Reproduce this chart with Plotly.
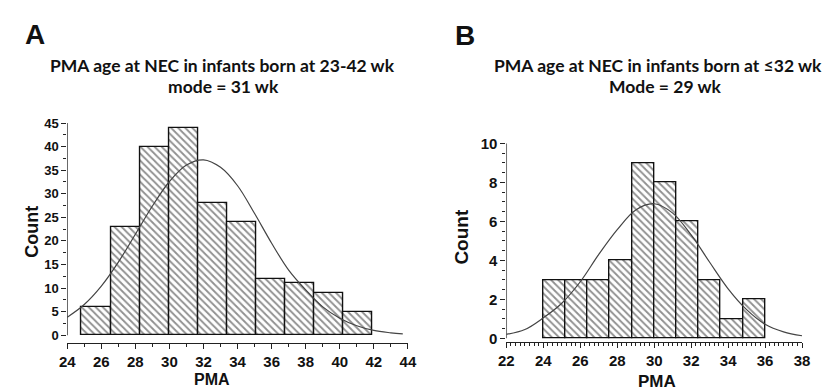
import plotly.graph_objects as go

# ---------------- data ----------------
# Panel A: PMA at NEC, infants born 23-42 wk
A_bin_start = 24.85
A_bin_width = 1.705
A_counts = [6, 23, 40, 44, 28, 24, 12, 11, 9, 5]
A_curve_x = [24, 25, 26, 27, 28, 29, 30, 31, 32, 33, 34, 35, 36, 37, 38, 39, 40, 41, 42, 43, 43.7]
A_curve_y = [3.8, 6.5, 10.4, 15.5, 21.4, 27.4, 32.6, 36.1, 37.2, 35.6, 31.7, 25.8, 19.5, 13.8, 9.6, 6.0, 3.6, 2.0, 1.0, 0.5, 0.25]

# Panel B: PMA at NEC, infants born <=32 wk
B_bin_start = 24.0
B_bin_width = 1.2
B_counts = [3, 3, 3, 4, 9, 8, 6, 3, 1, 2]
B_curve_x = [22, 23, 24, 25, 26, 27, 28, 29, 30, 31, 32, 33, 34, 35, 36, 37, 38]
B_curve_y = [0.2, 0.45, 1.05, 1.8, 2.9, 4.3, 5.57, 6.58, 6.9, 6.42, 5.3, 3.9, 2.54, 1.47, 0.72, 0.33, 0.13]

A_title = ["PMA age at NEC in infants born at 23-42 wk", "mode = 31 wk"]
B_title = ["PMA age at NEC in infants born at \u226432 wk", "Mode = 29 wk"]

W, H = 840, 390
def px(x):
    return x / W
def py(y):
    return 1 - y / H

fig = go.Figure()

def add_panel(counts, start, width, cx, cy, xa, ya):
    centers = [start + width * (i + 0.5) for i in range(len(counts))]
    fig.add_trace(go.Bar(
        x=centers, y=counts, width=width,
        marker=dict(color="white",
                    line=dict(color="#111", width=1.4),
                    pattern=dict(shape="\\", fgcolor="#222", bgcolor="white", size=5, solidity=0.38)),
        xaxis=xa, yaxis=ya, showlegend=False, hoverinfo="x+y"))
    fig.add_trace(go.Scatter(
        x=cx, y=cy, mode="lines", line=dict(color="#444", width=1.2, shape="spline"),
        xaxis=xa, yaxis=ya, showlegend=False))

add_panel(A_counts, A_bin_start, A_bin_width, A_curve_x, A_curve_y, "x", "y")
add_panel(B_counts, B_bin_start, B_bin_width, B_curve_x, B_curve_y, "x2", "y2")

tickfont_x = dict(family="Liberation Sans, Arial", size=15, color="#111", weight="bold")
tickfont_y = dict(family="Liberation Sans, Arial", size=13, color="#111", weight="bold")

common_x = dict(showgrid=False, zeroline=False, showline=True, linecolor="#222", linewidth=1.3,
                ticks="outside", ticklen=5, tickcolor="#222", tickwidth=1.2, fixedrange=True)
common_y = dict(showgrid=False, zeroline=False, showline=False,
                ticks="outside", ticklen=5, tickcolor="#222", tickwidth=1.2, fixedrange=True)

fig.update_layout(
    width=W, height=H, margin=dict(l=0, r=0, t=0, b=0),
    paper_bgcolor="white", plot_bgcolor="white", bargap=0,
    xaxis=dict(domain=[px(52.3), px(400)], range=[24, 44], dtick=2, tick0=24,
               minor=dict(dtick=1, ticks="outside", ticklen=3, tickcolor="#222"),
               tickfont=tickfont_x, anchor="y", **common_x),
    yaxis=dict(domain=[py(337.7), py(110)], range=[-1.575, 45], dtick=5, tick0=0,
               minor=dict(dtick=2.5, ticks="outside", ticklen=3, tickcolor="#222"),
               tickfont=tickfont_y, anchor="x", **common_y),
    xaxis2=dict(domain=[px(500.5), px(802.3)], range=[22, 38], dtick=2, tick0=22,
                minor=dict(dtick=0.25, ticks="outside", ticklen=3, tickcolor="#222"),
                tickfont=tickfont_x, anchor="y2", **common_x),
    yaxis2=dict(domain=[py(336.7), py(131)], range=[-0.17, 10], dtick=2, tick0=0,
                minor=dict(dtick=0.5, ticks="outside", ticklen=3, tickcolor="#222"),
                tickfont=dict(tickfont_y, size=15), anchor="x2", **common_y),
)

# detached y-axis lines (from 0 to top)
fig.add_shape(type="line", xref="x", yref="y", x0=24, x1=24, y0=0, y1=45,
              line=dict(color="#222", width=1.3))
fig.add_shape(type="line", xref="x2", yref="y2", x0=22, x1=22, y0=0, y1=10,
              line=dict(color="#222", width=1.3))

title_font = dict(family="Lato, Open Sans, sans-serif", size=17.5, color="#111", weight="bold")
label_font = dict(family="Liberation Sans, Arial", color="#111", weight="bold")

ann = [
    dict(text="A", x=px(19), y=py(18), font=dict(label_font, size=28)),
    dict(text="B", x=px(458), y=py(19), font=dict(label_font, size=28)),
    dict(text=A_title[0], x=px(211), y=py(50), font=title_font),
    dict(text=A_title[1], x=px(212), y=py(72), font=title_font),
    dict(text=B_title[0], x=px(655), y=py(50), font=title_font),
    dict(text=B_title[1], x=px(662), y=py(72), font=title_font),
    dict(text="Count", x=px(16), y=py(223), textangle=-90, font=dict(label_font, size=18)),
    dict(text="PMA", x=px(200), y=py(376), font=dict(label_font, size=16)),
    dict(text="Count", x=px(455), y=py(228), textangle=-90, font=dict(label_font, size=19)),
    dict(text="PMA", x=px(654), y=py(378), font=dict(label_font, size=17)),
]
for a in ann:
    fig.add_annotation(xref="paper", yref="paper", showarrow=False,
                       xanchor="center", yanchor="middle", borderpad=0, **a)

fig.write_html("out.html")
